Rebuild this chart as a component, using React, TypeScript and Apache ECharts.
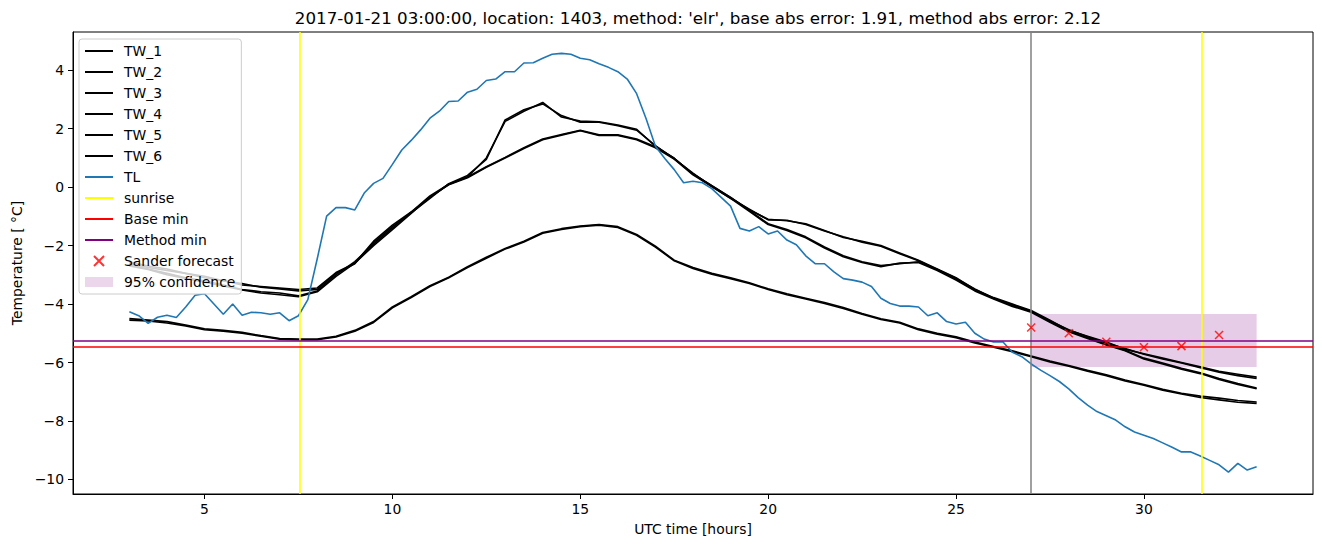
import React, { useEffect, useRef } from "react";
import * as echarts from "echarts";

const FONT = "DejaVu Sans";

const TITLE =
  "2017-01-21 03:00:00, location: 1403, method: 'elr', base abs error: 1.91, method abs error: 2.12";

const X_TICKS = [5, 10, 15, 20, 25, 30];
const Y_TICKS = [-10, -8, -6, -4, -2, 0, 2, 4];

const TIME_TW = [
  3, 3.5, 4, 4.5, 5, 5.5, 6, 6.5, 7, 7.5, 8, 8.5, 9, 9.5, 10, 10.5, 11, 11.5, 12, 12.5,
  13, 13.5, 14, 14.5, 15, 15.5, 16, 16.5, 17, 17.5, 18, 18.5, 19, 19.5, 20, 20.5, 21, 21.5,
  22, 22.5, 23, 23.5, 24, 24.5, 25, 25.5, 26, 26.5, 27, 27.5, 28, 28.5, 29, 29.5, 30, 30.5,
  31, 31.5, 32, 32.5, 33,
];

const TW_1 = [
  -2.6, -2.75, -2.85, -2.95, -3.1, -3.2, -3.35, -3.4, -3.45, -3.5, -3.45, -2.92, -2.6, -1.85,
  -1.3, -0.85, -0.35, 0.1, 0.35, 1.0, 2.25, 2.6, 2.9, 2.4, 2.26, 2.24, 2.13, 1.98, 1.4, 0.99,
  0.45, 0.05, -0.35, -0.78, -1.1, -1.15, -1.25, -1.48, -1.72, -1.85, -2.0, -2.25, -2.5, -2.8,
  -3.1, -3.5, -3.78, -4.0, -4.22, -4.55, -4.9, -5.1, -5.3, -5.55, -5.7, -5.85, -6.0, -6.15,
  -6.3, -6.4, -6.5,
];
const TW_2 = [
  -2.55, -2.7, -2.8, -2.95, -3.05, -3.2, -3.3, -3.42, -3.48, -3.55, -3.5, -2.95, -2.62, -1.9,
  -1.35, -0.88, -0.38, 0.12, 0.4, 0.95, 2.3, 2.65, 2.85, 2.45, 2.22, 2.22, 2.1, 1.95, 1.42,
  0.97, 0.48, 0.02, -0.38, -0.75, -1.12, -1.13, -1.28, -1.5, -1.7, -1.88, -2.02, -2.28, -2.52,
  -2.82, -3.12, -3.48, -3.8, -4.02, -4.25, -4.58, -4.88, -5.12, -5.33, -5.52, -5.72, -5.88,
  -6.02, -6.18, -6.33, -6.45, -6.55,
];
const TW_3 = [
  -2.65, -2.8, -2.95, -3.1, -3.2, -3.35, -3.5, -3.58, -3.62, -3.72, -3.55, -3.0, -2.55, -1.95,
  -1.4, -0.85, -0.3, 0.1, 0.35, 0.7, 1.02, 1.35, 1.65, 1.8, 1.95, 1.79, 1.79, 1.65, 1.38, 0.99,
  0.45, 0.05, -0.35, -0.8, -1.25, -1.45, -1.7, -2.05, -2.35, -2.55, -2.68, -2.62, -2.55, -2.82,
  -3.15, -3.52, -3.8, -4.05, -4.25, -4.6, -4.92, -5.15, -5.38, -5.58, -5.85, -6.02, -6.2, -6.35,
  -6.55, -6.72, -6.87,
];
const TW_4 = [
  -2.7, -2.82, -3.0, -3.12, -3.25, -3.38, -3.52, -3.62, -3.68, -3.75, -3.58, -3.05, -2.6, -2.0,
  -1.45, -0.9, -0.33, 0.08, 0.32, 0.68, 1.0, 1.32, 1.62, 1.78, 1.93, 1.77, 1.77, 1.62, 1.35,
  0.96, 0.42, 0.02, -0.38, -0.83, -1.28, -1.48, -1.73, -2.08, -2.38, -2.58, -2.72, -2.6, -2.58,
  -2.85, -3.18, -3.55, -3.83, -4.08, -4.28, -4.62, -4.95, -5.18, -5.4, -5.6, -5.88, -6.05,
  -6.23, -6.38, -6.58, -6.75, -6.9,
];
const TW_5 = [
  -4.5, -4.55, -4.6, -4.72, -4.85, -4.9, -4.97, -5.08, -5.18, -5.2, -5.2, -5.1, -4.9, -4.6,
  -4.1, -3.75, -3.37, -3.08, -2.72, -2.4, -2.1, -1.85, -1.55, -1.42, -1.33, -1.28, -1.35, -1.62,
  -2.02, -2.5, -2.75, -2.95, -3.1, -3.27, -3.48, -3.65, -3.8, -3.95, -4.12, -4.32, -4.5, -4.62,
  -4.85, -5.0, -5.12, -5.3, -5.45, -5.6, -5.78, -5.95, -6.1, -6.27, -6.42, -6.6, -6.75, -6.92,
  -7.05, -7.15, -7.22, -7.3, -7.35,
];
const TW_6 = [
  -4.55, -4.58, -4.65, -4.75, -4.88, -4.93, -5.0, -5.1, -5.2, -5.22, -5.22, -5.13, -4.93, -4.63,
  -4.13, -3.78, -3.4, -3.1, -2.75, -2.43, -2.12, -1.88, -1.58, -1.45, -1.35, -1.3, -1.38, -1.65,
  -2.05, -2.52, -2.78, -2.98, -3.13, -3.3, -3.5, -3.68, -3.83, -3.98, -4.15, -4.35, -4.53,
  -4.65, -4.88, -5.03, -5.15, -5.33, -5.48, -5.63, -5.8, -5.98, -6.13, -6.3, -6.45, -6.63,
  -6.78, -6.95, -7.08, -7.2, -7.28, -7.36, -7.4,
];

const TIME_TL = [
  3, 3.25, 3.5, 3.75, 4, 4.25, 4.5, 4.75, 5, 5.25, 5.5, 5.75, 6, 6.25, 6.5, 6.75, 7, 7.25, 7.5,
  7.75, 8, 8.25, 8.5, 8.75, 9, 9.25, 9.5, 9.75, 10, 10.25, 10.5, 10.75, 11, 11.25, 11.5, 11.75,
  12, 12.25, 12.5, 12.75, 13, 13.25, 13.5, 13.75, 14, 14.25, 14.5, 14.75, 15, 15.25, 15.5,
  15.75, 16, 16.25, 16.5, 16.75, 17, 17.25, 17.5, 17.75, 18, 18.25, 18.5, 18.75, 19, 19.25,
  19.5, 19.75, 20, 20.25, 20.5, 20.75, 21, 21.25, 21.5, 21.75, 22, 22.25, 22.5, 22.75, 23,
  23.25, 23.5, 23.75, 24, 24.25, 24.5, 24.75, 25, 25.25, 25.5, 25.75, 26, 26.25, 26.5, 26.75,
  27, 27.25, 27.5, 27.75, 28, 28.25, 28.5, 28.75, 29, 29.25, 29.5, 29.75, 30, 30.25, 30.5,
  30.75, 31, 31.25, 31.5, 31.75, 32, 32.25, 32.5, 32.75, 33,
];
const TL = [
  -4.26, -4.4, -4.66, -4.45, -4.38, -4.46, -4.1, -3.7, -3.65, -4.0, -4.35, -4.0, -4.38, -4.28,
  -4.3, -4.35, -4.3, -4.57, -4.4, -3.85, -2.45, -0.99, -0.7, -0.7, -0.78, -0.2, 0.13, 0.3, 0.78,
  1.27, 1.6, 1.96, 2.36, 2.6, 2.93, 2.95, 3.25, 3.35, 3.65, 3.7, 3.95, 3.95, 4.25, 4.26, 4.41,
  4.55, 4.58, 4.55, 4.41, 4.36, 4.22, 4.1, 3.95, 3.7, 3.2, 2.35, 1.4, 0.98, 0.6, 0.15, 0.2,
  0.15, -0.05, -0.35, -0.65, -1.41, -1.5, -1.35, -1.6, -1.5, -1.81, -1.97, -2.35, -2.62, -2.62,
  -2.9, -3.13, -3.18, -3.25, -3.4, -3.8, -3.98, -4.07, -4.07, -4.1, -4.4, -4.3, -4.6, -4.68,
  -4.62, -5.0, -5.2, -5.3, -5.3, -5.65, -5.8, -6.05, -6.26, -6.45, -6.65, -6.9, -7.2, -7.46,
  -7.68, -7.82, -7.97, -8.2, -8.38, -8.49, -8.6, -8.75, -8.9, -9.06, -9.06, -9.2, -9.35, -9.5,
  -9.75, -9.45, -9.68, -9.57,
];

const SUNRISE = [7.54, 31.55];
const FORECAST_TIME = 27;
const BASE_MIN = -5.46;
const METHOD_MIN = -5.26;
const SANDER_TIME = [27, 28, 29, 30, 31, 32];
const SANDER_VALUE = [-4.8, -5.0, -5.29, -5.48, -5.44, -5.06];
const CONF_X = [27, 33];
const CONF_Y = [-6.15, -4.34];

const TW_NAMES = ["TW_1", "TW_2", "TW_3", "TW_4", "TW_5", "TW_6"];
const TW_VALUES = [TW_1, TW_2, TW_3, TW_4, TW_5, TW_6];

const zip = (xs: number[], ys: number[]) => xs.map((x, i) => [x, ys[i]]);
const fmt = (v: number) => (v < 0 ? "\u2212" + Math.abs(v) : String(v));
const CROSS = "path://M0,0L10,10M10,0L0,10";
const LINE_ICON = "path://M0,0L28,0L28,2L0,2Z";

export default function App() {
  const ref = useRef<HTMLDivElement>(null);
  useEffect(() => {
    const chart = echarts.init(ref.current!, null, { renderer: "svg" });
    const noLabel = { show: false };
    const series: any[] = [];
    TW_NAMES.forEach((name, i) => {
      series.push({
        name,
        type: "line",
        data: zip(TIME_TW, TW_VALUES[i]),
        symbol: "none",
        lineStyle: { color: "#000000", width: 1.6 },
        itemStyle: { color: "#000000" },
        z: 2,
      });
    });
    series.push({
      name: "TL",
      type: "line",
      data: zip(TIME_TL, TL),
      symbol: "none",
      lineStyle: { color: "#1f77b4", width: 1.6 },
      itemStyle: { color: "#1f77b4" },
      z: 3,
      markLine: {
        silent: true,
        symbol: ["none", "none"],
        label: noLabel,
        lineStyle: { color: "#808080", width: 1.5, type: "solid" },
        data: [{ xAxis: FORECAST_TIME }],
      },
    });
    series.push({
      name: "sunrise",
      type: "line",
      data: [],
      symbol: "none",
      lineStyle: { color: "#ffff00", width: 1.5 },
      itemStyle: { color: "#ffff00" },
      z: 4,
      markLine: {
        silent: true,
        symbol: ["none", "none"],
        label: noLabel,
        lineStyle: { color: "#ffff00", width: 1.5, type: "solid" },
        data: SUNRISE.map((x) => ({ xAxis: x })),
      },
    });
    series.push({
      name: "Base min",
      type: "line",
      data: [],
      symbol: "none",
      lineStyle: { color: "#ff0000", width: 1.5 },
      itemStyle: { color: "#ff0000" },
      z: 4,
      markLine: {
        silent: true,
        symbol: ["none", "none"],
        label: noLabel,
        lineStyle: { color: "#ff0000", width: 1.5, type: "solid" },
        data: [{ yAxis: BASE_MIN }],
      },
    });
    series.push({
      name: "Method min",
      type: "line",
      data: [],
      symbol: "none",
      lineStyle: { color: "#800080", width: 1.5 },
      itemStyle: { color: "#800080" },
      z: 4,
      markLine: {
        silent: true,
        symbol: ["none", "none"],
        label: noLabel,
        lineStyle: { color: "#800080", width: 1.5, type: "solid" },
        data: [{ yAxis: METHOD_MIN }],
      },
    });
    series.push({
      name: "Sander forecast",
      type: "scatter",
      data: zip(SANDER_TIME, SANDER_VALUE),
      symbol: CROSS,
      symbolSize: 8,
      itemStyle: { color: "#ff0000", borderColor: "#ff0000", borderWidth: 1.5 },
      z: 5,
    });
    series.push({
      name: "95% confidence",
      type: "scatter",
      data: [],
      itemStyle: { color: "rgba(128,0,128,0.2)" },
      z: 1,
      markArea: {
        silent: true,
        itemStyle: { color: "rgba(128,0,128,0.2)" },
        data: [[{ xAxis: CONF_X[0], yAxis: CONF_Y[0] }, { xAxis: CONF_X[1], yAxis: CONF_Y[1] }]],
      },
    });

    const axisText = { fontFamily: FONT, fontSize: 13.9, color: "#000000" };
    const lineItem = (name: string, color: string) => ({
      name,
      icon: LINE_ICON,
      itemStyle: { color, borderWidth: 0 },
    });

    chart.setOption({
      animation: false,
      backgroundColor: "#ffffff",
      title: {
        text: TITLE,
        left: 693,
        top: 4,
        textAlign: "center",
        textStyle: { fontFamily: FONT, fontSize: 16.7, fontWeight: "normal", color: "#000000" },
      },
      grid: {
        left: 73,
        right: 9,
        top: 32,
        bottom: 53,
        show: true,
        borderColor: "#000000",
        borderWidth: 1,
        backgroundColor: "transparent",
      },
      legend: {
        orient: "vertical",
        left: 79,
        top: 39,
        padding: [5, 6, 5, 6],
        itemWidth: 28,
        itemHeight: 10,
        itemGap: 7,
        symbolKeepAspect: true,
        selectedMode: false,
        backgroundColor: "rgba(255,255,255,0.8)",
        borderColor: "#cccccc",
        borderWidth: 1,
        borderRadius: 3,
        textStyle: { fontFamily: FONT, fontSize: 13.9, color: "#000000", padding: [0, 0, 0, 6] },
        data: [
          ...TW_NAMES.map((n) => lineItem(n, "#000000")),
          lineItem("TL", "#1f77b4"),
          lineItem("sunrise", "#ffff00"),
          lineItem("Base min", "#ff0000"),
          lineItem("Method min", "#800080"),
          { name: "Sander forecast", icon: CROSS },
          { name: "95% confidence", icon: "rect" },
        ],
      },
      xAxis: {
        type: "value",
        min: 1.5,
        max: 34.5,
        name: "UTC time [hours]",
        nameLocation: "middle",
        nameGap: 28,
        nameTextStyle: axisText,
        axisLine: { show: true, onZero: false, lineStyle: { color: "#000000", width: 1 } },
        axisTick: { show: true, customValues: X_TICKS, length: 5, lineStyle: { color: "#000000" } },
        axisLabel: { customValues: X_TICKS, margin: 8, ...axisText, formatter: fmt },
        splitLine: { show: false },
      },
      yAxis: {
        type: "value",
        min: -10.5,
        max: 5.31,
        name: "Temperature [ °C]",
        nameLocation: "middle",
        nameGap: 47,
        nameRotate: 90,
        nameTextStyle: axisText,
        axisLine: { show: true, onZero: false, lineStyle: { color: "#000000", width: 1 } },
        axisTick: { show: true, customValues: Y_TICKS, length: 5, lineStyle: { color: "#000000" } },
        axisLabel: { customValues: Y_TICKS, margin: 9, ...axisText, formatter: fmt },
        splitLine: { show: false },
      },
      series,
    });
    return () => chart.dispose();
  }, []);
  return (
    <div
      ref={ref}
      style={{ position: "fixed", left: 0, top: 0, width: 1322, height: 547, background: "#ffffff" }}
    />
  );
}
